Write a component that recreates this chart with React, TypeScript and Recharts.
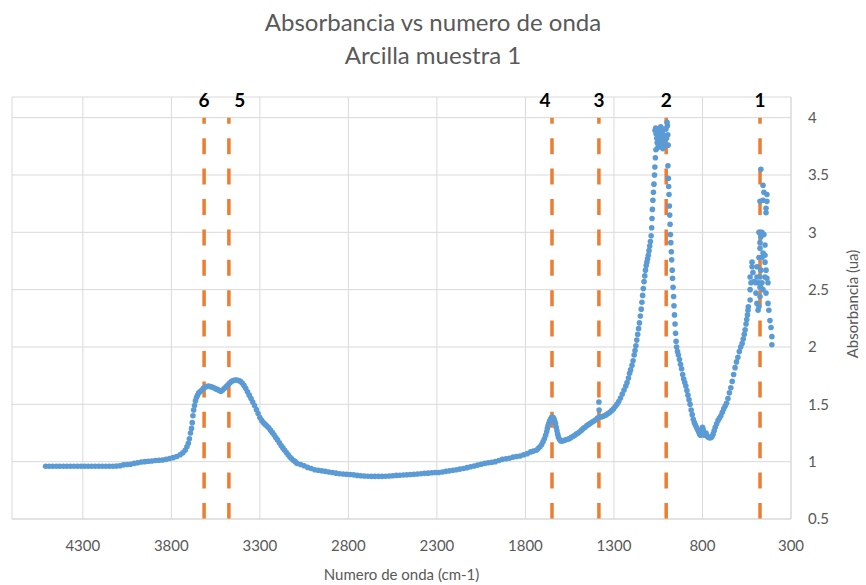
import {
  ScatterChart,
  Scatter,
  XAxis,
  YAxis,
  CartesianGrid,
  ReferenceLine,
  ReferenceDot,
  Label,
} from "recharts";

type Pt = [number, number];

// [wavenumber (cm-1), absorbance (ua)]
const baselineHigh: Pt[] = [
  [4510, 0.96], [4490, 0.96], [4470, 0.96], [4450, 0.96], [4430, 0.96], [4410, 0.96],
  [4390, 0.96], [4370, 0.96], [4350, 0.96], [4330, 0.96], [4310, 0.96], [4290, 0.96],
  [4270, 0.96], [4250, 0.96], [4230, 0.96], [4210, 0.96], [4190, 0.96], [4170, 0.96],
  [4150, 0.96], [4130, 0.96], [4110, 0.962], [4090, 0.965], [4070, 0.972], [4050, 0.975],
  [4030, 0.978], [4010, 0.985], [3990, 0.99], [3970, 0.997], [3950, 1.0], [3930, 1.003],
  [3910, 1.006], [3890, 1.01], [3870, 1.012], [3850, 1.015], [3830, 1.02], [3810, 1.028],
  [3790, 1.035], [3770, 1.045], [3750, 1.06], [3735, 1.077], [3722, 1.1], [3712, 1.13],
  [3704, 1.16], [3698, 1.2],
];

const bandOH: Pt[] = [
  [3692, 1.25], [3686, 1.29], [3682, 1.34], [3678, 1.4], [3674, 1.45], [3669, 1.49],
  [3664, 1.53], [3658, 1.56], [3652, 1.58], [3645, 1.6], [3638, 1.61], [3630, 1.62],
  [3620, 1.64], [3610, 1.65], [3600, 1.655], [3590, 1.66], [3580, 1.655], [3570, 1.65],
  [3560, 1.645], [3550, 1.635], [3540, 1.63], [3530, 1.62], [3520, 1.615], [3510, 1.625],
  [3500, 1.64], [3490, 1.655], [3480, 1.67], [3470, 1.685], [3460, 1.7], [3450, 1.708],
  [3440, 1.712], [3430, 1.712], [3420, 1.708], [3410, 1.7], [3400, 1.685], [3390, 1.665],
  [3380, 1.64], [3370, 1.61], [3360, 1.58], [3350, 1.55], [3340, 1.52], [3330, 1.49],
  [3320, 1.455], [3310, 1.42], [3300, 1.385], [3290, 1.36], [3280, 1.34], [3270, 1.325],
  [3260, 1.31], [3250, 1.295], [3240, 1.275], [3230, 1.255], [3220, 1.235], [3210, 1.21],
  [3200, 1.19], [3190, 1.165], [3180, 1.14], [3170, 1.12], [3160, 1.1], [3150, 1.08],
  [3140, 1.06], [3130, 1.04], [3120, 1.025], [3110, 1.01], [3100, 1.0],
];

const valley: Pt[] = [
  [3090, 0.985], [3070, 0.975], [3050, 0.965], [3030, 0.95], [3010, 0.94], [2990, 0.93],
  [2970, 0.925], [2950, 0.92], [2930, 0.915], [2910, 0.91], [2890, 0.905], [2870, 0.9],
  [2850, 0.895], [2830, 0.893], [2810, 0.89], [2790, 0.888], [2770, 0.885], [2750, 0.88],
  [2730, 0.877], [2710, 0.875], [2690, 0.873], [2670, 0.872], [2650, 0.872], [2630, 0.872],
  [2610, 0.872], [2590, 0.873], [2570, 0.875], [2550, 0.877], [2530, 0.88], [2510, 0.882],
  [2490, 0.884], [2470, 0.886], [2450, 0.888], [2430, 0.89], [2410, 0.893], [2390, 0.895],
  [2370, 0.898], [2350, 0.9], [2330, 0.903], [2310, 0.905], [2290, 0.905], [2270, 0.91],
  [2250, 0.915], [2230, 0.92], [2210, 0.925], [2190, 0.93], [2170, 0.935], [2150, 0.94],
  [2130, 0.948], [2110, 0.955], [2090, 0.962], [2070, 0.97], [2050, 0.978], [2030, 0.985],
  [2010, 0.99], [1990, 0.995], [1970, 1.0], [1950, 1.01], [1930, 1.02], [1910, 1.025],
  [1890, 1.03], [1870, 1.04], [1850, 1.045], [1830, 1.05], [1810, 1.06], [1790, 1.07],
  [1770, 1.085], [1755, 1.092],
];

const bandWater: Pt[] = [
  [1738, 1.1], [1728, 1.115], [1718, 1.13], [1708, 1.15], [1700, 1.175], [1693, 1.2],
  [1686, 1.23], [1680, 1.26], [1676, 1.29], [1672, 1.315], [1668, 1.335], [1663, 1.355],
  [1658, 1.37], [1653, 1.385], [1648, 1.39], [1643, 1.385], [1638, 1.37], [1634, 1.35],
  [1630, 1.33], [1626, 1.3], [1622, 1.27], [1618, 1.24], [1614, 1.215], [1608, 1.195],
  [1600, 1.18], [1592, 1.18], [1583, 1.185], [1573, 1.19], [1563, 1.195], [1553, 1.2],
  [1543, 1.21], [1533, 1.22], [1523, 1.228], [1513, 1.24], [1503, 1.25], [1493, 1.26],
  [1483, 1.275], [1473, 1.29], [1463, 1.3], [1453, 1.315], [1443, 1.325], [1433, 1.335],
  [1423, 1.345], [1413, 1.355], [1403, 1.365], [1393, 1.38], [1385, 1.52], [1384, 1.45],
  [1383, 1.39], [1373, 1.39], [1363, 1.395], [1353, 1.4], [1343, 1.41], [1333, 1.42],
  [1323, 1.43], [1313, 1.445], [1303, 1.46], [1293, 1.48], [1283, 1.5], [1273, 1.525],
  [1263, 1.555], [1253, 1.59], [1243, 1.625], [1233, 1.66], [1226, 1.69], [1218, 1.73],
  [1212, 1.77], [1206, 1.8],
];

const bandSiO: Pt[] = [
  [1198, 1.84], [1192, 1.88], [1186, 1.93], [1181, 1.97], [1176, 2.01], [1171, 2.06],
  [1166, 2.11], [1161, 2.16], [1156, 2.21], [1151, 2.27], [1146, 2.33], [1142, 2.39],
  [1138, 2.45], [1134, 2.51], [1130, 2.57], [1126, 2.62], [1122, 2.67], [1118, 2.71],
  [1114, 2.74], [1110, 2.77], [1106, 2.8], [1102, 2.84], [1098, 2.88], [1094, 2.92],
  [1090, 2.97], [1087, 3.04], [1085, 3.12], [1083, 3.2], [1080, 3.28], [1077, 3.35],
  [1074, 3.42], [1071, 3.5], [1069, 3.57], [1066, 3.65], [1063, 3.72],
  // saturated top
  [1068, 3.89], [1064, 3.91], [1062, 3.86], [1058, 3.82], [1056, 3.78], [1054, 3.88],
  [1052, 3.74], [1049, 3.84], [1046, 3.9], [1044, 3.8], [1041, 3.76], [1038, 3.86],
  [1036, 3.92], [1033, 3.83], [1030, 3.78], [1027, 3.88], [1024, 3.73], [1021, 3.85],
  [1018, 3.9], [1015, 3.8], [1012, 3.76], [1009, 3.84], [1006, 3.9], [1003, 3.82],
  [1000, 3.96], [998, 3.93], [996, 3.85], [994, 3.76],
  // falling side
  [995, 3.58], [993, 3.47], [991, 3.4], [989, 3.33], [987, 3.23], [985, 3.15],
  [983, 3.07], [981, 2.98], [979, 2.91], [976, 2.83], [974, 2.76], [971, 2.67],
  [969, 2.6], [966, 2.52], [963, 2.44], [961, 2.36], [958, 2.28], [955, 2.2],
  [952, 2.12], [949, 2.05], [946, 2.0], [941, 1.96], [936, 1.93], [930, 1.89],
  [924, 1.85], [918, 1.81], [912, 1.76], [906, 1.72], [900, 1.69], [894, 1.66],
  [888, 1.62], [882, 1.58], [876, 1.54], [870, 1.5], [864, 1.45], [858, 1.41],
  [852, 1.37], [846, 1.34], [840, 1.32], [834, 1.3], [828, 1.28], [822, 1.26],
  [816, 1.24], [811, 1.23],
];

const bandLow: Pt[] = [
  [804, 1.27], [800, 1.3], [796, 1.28], [792, 1.25], [788, 1.23], [784, 1.24],
  [780, 1.25], [776, 1.23], [770, 1.215], [764, 1.21], [758, 1.21], [752, 1.21],
  [746, 1.22], [740, 1.24], [734, 1.27], [728, 1.3], [720, 1.33], [712, 1.36],
  [704, 1.38], [696, 1.4], [688, 1.43], [680, 1.46], [672, 1.485], [664, 1.51],
  [656, 1.55], [648, 1.6], [640, 1.645], [632, 1.7], [624, 1.76], [616, 1.82],
  [608, 1.87], [600, 1.91], [592, 1.96], [584, 2.0], [576, 2.03], [570, 2.07],
  [564, 2.11], [559, 2.15], [554, 2.2], [550, 2.24], [546, 2.28], [543, 2.32],
  // noisy end of the range
  [541, 2.35], [531, 2.41], [531, 2.5], [526, 2.56], [531, 2.61], [520, 2.7],
  [520, 2.74], [515, 2.65], [509, 2.57], [498, 2.47], [492, 2.38], [486, 2.32],
  [481, 2.35], [475, 2.44], [470, 2.52], [475, 2.61], [470, 2.67], [481, 2.78],
  [464, 2.78], [475, 2.86], [458, 2.82], [447, 2.74], [441, 2.67], [436, 2.6],
  [430, 2.56], [441, 2.47], [430, 2.38], [425, 2.32], [419, 2.23], [413, 2.17],
  [408, 2.09], [408, 2.02], [481, 3.0], [470, 2.96], [475, 2.91], [453, 2.98],
  [447, 2.89], [458, 3.28], [475, 3.27], [436, 3.27], [453, 3.35], [436, 3.33],
  [441, 3.21], [441, 3.17], [470, 3.55], [458, 3.41], [464, 3.0], [447, 2.8],
  [447, 2.61], [458, 2.5], [464, 2.56], [492, 2.7], [492, 2.61], [481, 2.56],
  [498, 2.56], [475, 2.52],
];

const spectrum = [...baselineHigh, ...bandOH, ...valley, ...bandWater, ...bandSiO, ...bandLow].map(
  ([wn, abs]) => ({ wn, abs })
);

// assigned bands
const peakWavenumbers = [475, 1005, 1385, 1650, 3475, 3615];
const peakNames = ["1", "2", "3", "4", "5", "6"];

const xTicks = [300, 800, 1300, 1800, 2300, 2800, 3300, 3800, 4300];
const yTicks = [0.5, 1, 1.5, 2, 2.5, 3, 3.5, 4];

const FONT = "Lato, 'Open Sans', sans-serif";
const GRAY = "#595959";
const GRID = "#d9d9d9";
const BLUE = "#5B9BD5";
const ORANGE = "#ED7D31";

// small horizontal nudges for the band numbers
const nameShift: Record<string, number> = { "4": -7, "5": 11 };

const Dot = (props: any) => <circle cx={props.cx} cy={props.cy} r={2.8} fill={BLUE} />;

export default function App() {
  return (
    <div
      style={{
        position: "absolute",
        left: 0,
        top: 0,
        width: 866,
        height: 585,
        background: "#fff",
        fontFamily: FONT,
      }}
    >
      <div
        style={{
          position: "absolute",
          top: 5,
          left: 0,
          width: 866,
          textAlign: "center",
          color: GRAY,
          fontSize: 24,
          lineHeight: "33px",
        }}
      >
        <div>Absorbancia vs numero de onda</div>
        <div>Arcilla muestra 1</div>
      </div>
      <ScatterChart width={866} height={585} margin={{ top: 97, right: 0, bottom: 0, left: 12 }}>
        <CartesianGrid stroke={GRID} strokeWidth={1} />
        <XAxis
          type="number"
          dataKey="wn"
          domain={[300, 4700]}
          reversed
          ticks={xTicks}
          interval={0}
          allowDataOverflow
          height={66}
          tickLine={false}
          tickMargin={15}
          axisLine={{ stroke: GRID }}
          tick={{ fill: GRAY, fontSize: 15, fontFamily: FONT }}
        >
          <Label
            value="Numero de onda (cm-1)"
            position="insideBottom"
            offset={5}
            style={{ fill: GRAY, fontSize: 15, fontFamily: FONT }}
          />
        </XAxis>
        <YAxis
          type="number"
          dataKey="abs"
          orientation="right"
          domain={[0.5, 4.18]}
          ticks={yTicks}
          interval={0}
          allowDataOverflow
          width={75}
          tickLine={false}
          tickMargin={11}
          axisLine={{ stroke: GRID }}
          tick={{ fill: GRAY, fontSize: 15, fontFamily: FONT }}
        >
          <Label
            content={(p: any) => {
              const vb = p.viewBox;
              const cx = vb.x + 61;
              const cy = vb.y + vb.height / 2 - 4;
              return (
                <text
                  x={cx}
                  y={cy}
                  transform={`rotate(-90 ${cx} ${cy})`}
                  textAnchor="middle"
                  dominantBaseline="central"
                  fill={GRAY}
                  fontSize={15}
                  fontFamily={FONT}
                >
                  Absorbancia (ua)
                </text>
              );
            }}
          />
        </YAxis>
        <Scatter data={spectrum} shape={Dot} isAnimationActive={false} />
        {peakWavenumbers.map((wn) => (
          <ReferenceLine
            key={`line-${wn}`}
            segment={[
              { x: wn, y: 0.5 },
              { x: wn, y: 4 },
            ]}
            stroke={ORANGE}
            strokeWidth={3.5}
            strokeDasharray="16 14.4"
            ifOverflow="visible"
          />
        ))}
        {peakWavenumbers.map((wn, i) => (
          <ReferenceDot
            key={`name-${wn}`}
            x={wn}
            y={4}
            r={0}
            ifOverflow="visible"
            shape={(p: any) => (
              <text
                x={p.cx + (nameShift[peakNames[i]] || 0)}
                y={p.cy - 11}
                textAnchor="middle"
                fontSize={19}
                fontWeight="bold"
                fontFamily={FONT}
                fill="#000"
              >
                {peakNames[i]}
              </text>
            )}
          />
        ))}
      </ScatterChart>
    </div>
  );
}
